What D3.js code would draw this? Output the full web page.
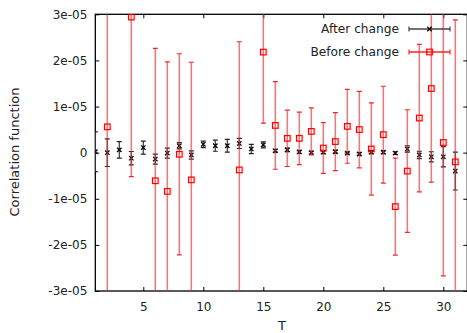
<!DOCTYPE html>
<html>
<head>
<meta charset="utf-8">
<script src="https://cdn.jsdelivr.net/npm/d3@7"></script>
<style>
  html, body { margin: 0; padding: 0; background: #fff; }
  svg { display: block; }
  text { font-family: "DejaVu Sans", sans-serif; }
</style>
</head>
<body>
<svg id="chart" width="467" height="333"></svg>
<script>
// ---- data (values in units of 1e-05) ----
const afterT   = [1,2,3,4,5,6,7,8,9,10,11,12,13,14,15,16,17,18,19,20,21,22,23,24,25,26,27,28,29,30,31];
const afterVal = [0.02,0.0,0.06,-0.12,0.11,-0.14,-0.01,0.15,-0.05,0.18,0.15,0.15,0.2,0.08,0.17,0.04,0.06,0.015,0.0,0.01,0.02,-0.01,-0.03,0.01,0.01,-0.01,0.08,-0.05,-0.09,-0.09,-0.4];
const afterErr = [0.43,0.3,0.18,0.145,0.14,0.11,0.11,0.07,0.09,0.07,0.12,0.14,0.11,0.1,0.065,0.03,0.04,0.03,0.03,0.03,0.03,0.02,0.03,0.03,0.03,0.03,0.07,0.08,0.11,0.22,0.41];

const beforeT   = [2,4,6,7,8,9,13,15,16,17,18,19,20,21,22,23,24,25,26,27,28,29,30,31];
const beforeVal = [0.56,2.94,-0.61,-0.84,-0.035,-0.59,-0.375,2.18,0.59,0.31,0.31,0.46,0.1,0.24,0.57,0.5,0.08,0.39,-1.17,-0.4,0.75,1.39,0.22,-0.2];
const beforeErr = [3.7,3.46,2.87,2.81,2.18,2.55,2.78,1.54,0.95,0.61,0.57,0.51,0.55,0.63,0.8,0.83,1.0,1.05,1.05,1.33,1.6,2.03,2.89,3.08];

const scaleUnit = 1e-5;
const xTicks = [5,10,15,20,25,30];
const yTicks = [-3e-5,-2e-5,-1e-5,0,1e-5,2e-5,3e-5];
const yTickLabels = ["-3e-05","-2e-05","-1e-05","0","1e-05","2e-05","3e-05"];
const seriesNames = ["After change","Before change"];

// ---- layout ----
const svg = d3.select("#chart");
const L = 95.3, R = 467.3, T = 14.3, B = 291;
const x = d3.scaleLinear().domain([1, 32]).range([L, R]);
const y = d3.scaleLinear().domain([-3e-5, 3e-5]).range([B, T]);

svg.append("defs").append("clipPath").attr("id","clip")
  .append("rect").attr("x", L).attr("y", T).attr("width", R - L).attr("height", B - T);

const fontSize = 12;

// axes
const gx = svg.append("g").attr("transform", `translate(0,${B})`)
  .call(d3.axisBottom(x).tickValues(xTicks).tickSize(-4).tickPadding(11).tickFormat(d3.format("d")));
const gxt = svg.append("g").attr("transform", `translate(0,${T})`)
  .call(d3.axisTop(x).tickValues(xTicks).tickSize(-4).tickFormat(""));
const gy = svg.append("g").attr("transform", `translate(${L},0)`)
  .call(d3.axisLeft(y).tickValues(yTicks).tickSize(-4).tickPadding(8)
    .tickFormat((d, i) => yTickLabels[i]));
const gyr = svg.append("g").attr("transform", `translate(${R},0)`)
  .call(d3.axisRight(y).tickValues(yTicks).tickSize(-4).tickFormat(""));
[gx, gxt, gy, gyr].forEach(g => {
  g.select(".domain").remove();
  g.selectAll("line").attr("stroke", "#000").attr("stroke-width", 1);
  g.selectAll("text").attr("font-family", "DejaVu Sans, sans-serif").attr("font-size", fontSize).attr("fill", "#222");
});

// frame
svg.append("rect").attr("x", L).attr("y", T).attr("width", R - L).attr("height", B - T)
  .attr("fill", "none").attr("stroke", "#000").attr("stroke-width", 1.3);

// axis titles
svg.append("text").attr("x", 282).attr("y", 330).attr("text-anchor", "middle")
  .attr("font-size", 13).attr("fill", "#222").text("T");
svg.append("text").attr("transform", "translate(19,152) rotate(-90)").attr("text-anchor", "middle")
  .attr("font-size", 13).attr("fill", "#222").text("Correlation function");

const plot = svg.append("g").attr("clip-path", "url(#clip)");
const cap = 2.5;

// After change (black)
const after = afterT.map((t, i) => ({t, v: afterVal[i] * scaleUnit, e: afterErr[i] * scaleUnit}));
const ga = plot.append("g");
after.forEach(d => {
  const px = x(d.t), y1 = y(d.v + d.e), y2 = y(d.v - d.e);
  ga.append("line").attr("x1", px).attr("x2", px).attr("y1", y1).attr("y2", y2)
    .attr("stroke", "#444").attr("stroke-width", 1.3);
  [y1, y2].forEach(yy => ga.append("line").attr("x1", px - cap).attr("x2", px + cap)
    .attr("y1", yy).attr("y2", yy).attr("stroke", "#222").attr("stroke-width", 1.2));
  const s = 2.2, py = y(d.v);
  ga.append("path").attr("d", `M${px-s},${py-s}L${px+s},${py+s}M${px-s},${py+s}L${px+s},${py-s}`)
    .attr("stroke", "#000").attr("stroke-width", 1.3);
});

// Before change (red)
const before = beforeT.map((t, i) => ({t, v: beforeVal[i] * scaleUnit, e: beforeErr[i] * scaleUnit}));
const gb = plot.append("g");
before.forEach(d => {
  const px = x(d.t), y1 = y(d.v + d.e), y2 = y(d.v - d.e);
  gb.append("line").attr("x1", px).attr("x2", px).attr("y1", y1).attr("y2", y2)
    .attr("stroke", "rgba(255,40,40,0.65)").attr("stroke-width", 1.6);
  [y1, y2].forEach(yy => gb.append("line").attr("x1", px - cap).attr("x2", px + cap)
    .attr("y1", yy).attr("y2", yy).attr("stroke", "#f22").attr("stroke-width", 1.2));
  const s = 2.8, py = y(d.v);
  gb.append("rect").attr("x", px - s).attr("y", py - s).attr("width", 2 * s).attr("height", 2 * s)
    .attr("fill", "none").attr("stroke", "#f00").attr("stroke-width", 1.2);
});

// legend
const legX1 = 409, legX2 = 450, legXc = 429.5;
const legend = [{y: 29, name: seriesNames[0], color: "#444"}, {y: 52, name: seriesNames[1], color: "#f22"}];
legend.forEach((l, i) => {
  svg.append("text").attr("x", 399).attr("y", l.y).attr("dy", "0.35em").attr("text-anchor", "end")
    .attr("font-size", 12.2).attr("fill", "#222").text(l.name);
  svg.append("line").attr("x1", legX1).attr("x2", legX2).attr("y1", l.y).attr("y2", l.y)
    .attr("stroke", l.color).attr("stroke-width", 1.3);
  [legX1, legX2].forEach(xx => svg.append("line").attr("x1", xx).attr("x2", xx)
    .attr("y1", l.y - cap).attr("y2", l.y + cap).attr("stroke", l.color).attr("stroke-width", 1.2));
  if (i === 0) {
    const s = 2.2;
    svg.append("path").attr("d", `M${legXc-s},${l.y-s}L${legXc+s},${l.y+s}M${legXc-s},${l.y+s}L${legXc+s},${l.y-s}`)
      .attr("stroke", "#000").attr("stroke-width", 1.3);
  } else {
    const s = 2.8;
    svg.append("rect").attr("x", legXc - s).attr("y", l.y - s).attr("width", 2 * s).attr("height", 2 * s)
      .attr("fill", "none").attr("stroke", "#f00").attr("stroke-width", 1.2);
  }
});
</script>
</body>
</html>
